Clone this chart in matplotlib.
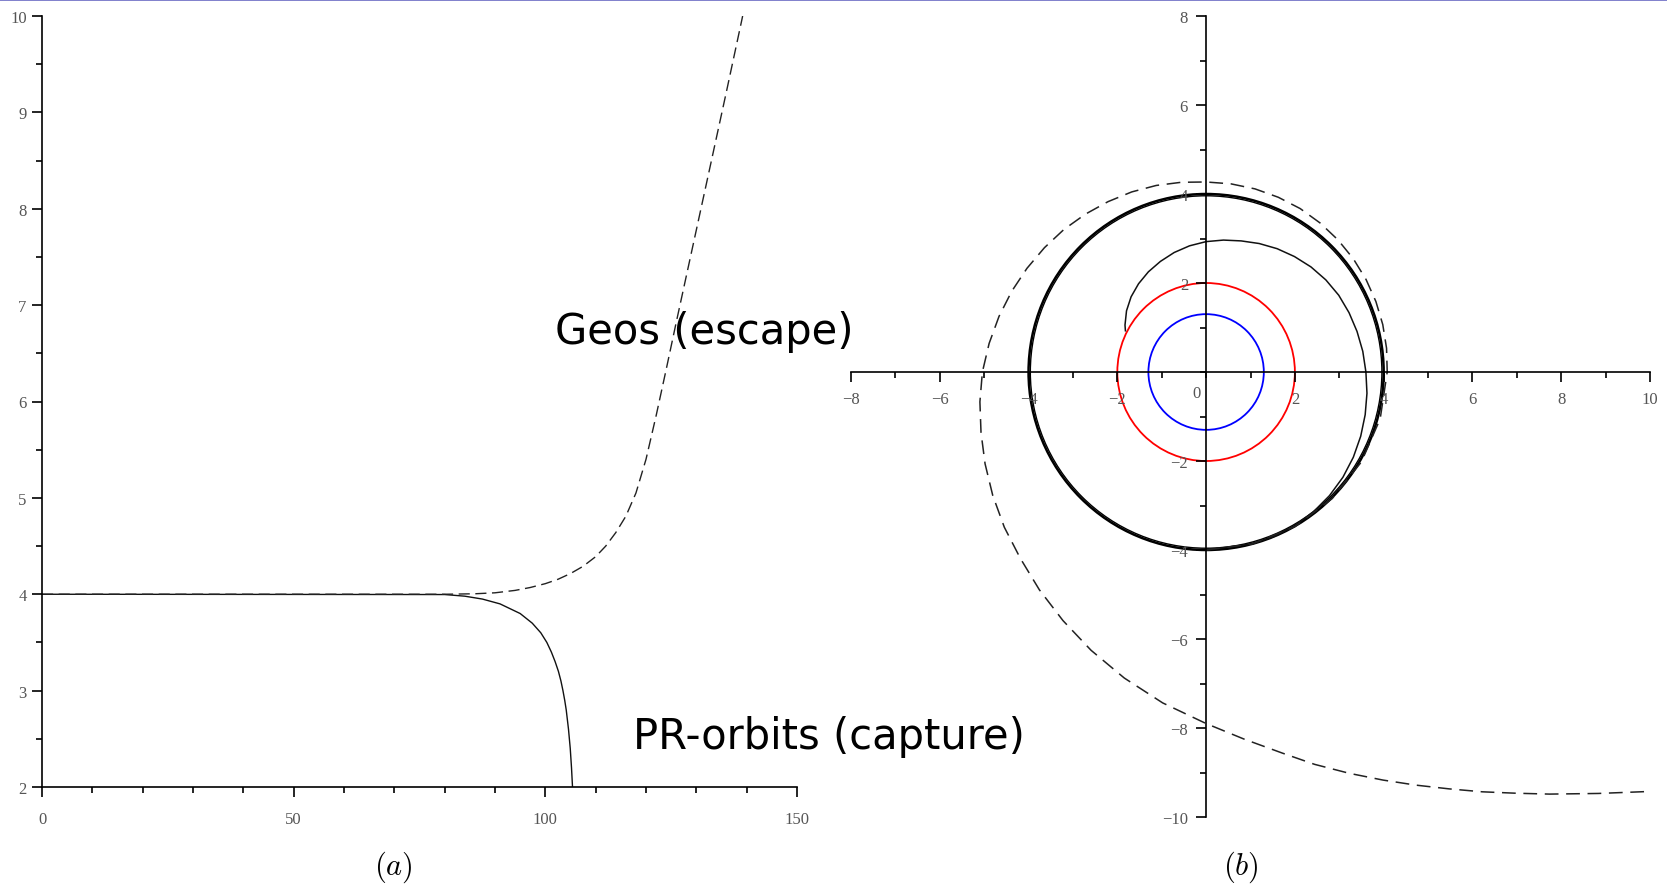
import numpy as np
import matplotlib.pyplot as plt
from matplotlib.ticker import MultipleLocator, FixedLocator
from matplotlib.patches import Circle
from matplotlib.lines import Line2D

plt.rcParams['font.family'] = ['Liberation Serif', 'DejaVu Serif']
plt.rcParams['mathtext.fontset'] = 'cm'

# panel (a): r against time
t_escape = [0, 80, 86, 90, 94, 97, 100, 102.5, 105, 107.5, 110, 112, 114, 116,
            118, 120, 122, 124, 126, 128, 130, 133, 136, 139, 139.2]
r_escape = [4.0, 4.0, 4.005, 4.015, 4.04, 4.07, 4.11, 4.155, 4.215, 4.29, 4.39,
            4.50, 4.64, 4.81, 5.05, 5.40, 5.85, 6.33, 6.82, 7.30, 7.78, 8.50,
            9.22, 9.95, 10.0]
t_capture = [0, 80, 84, 87.5, 91.0, 95.0, 97.4, 99.1, 100.3, 101.2, 101.95,
             102.6, 103.1, 103.5, 103.85, 104.15, 104.6, 104.95, 105.2, 105.4]
r_capture = [4.0, 3.997, 3.98, 3.95, 3.9, 3.8, 3.7, 3.6, 3.5, 3.4, 3.3, 3.2,
             3.1, 3.0, 2.9, 2.8, 2.6, 2.4, 2.2, 2.0]

# panel (b): orbits in the plane, polar angle (deg) and radius
phi_escape = [-90, -75, -60, -45, -30, -15, 0, 7.5, 15, 22.5, 30, 37.5, 45,
              52.5, 60, 67.5, 75, 82.5, 90, 97.5, 105, 112.5, 120, 127.5, 135,
              142.5, 150, 157.5, 165, 172.5, 180, 187.5, 195, 202.5, 210,
              217.5, 225, 232.5, 240, 247.5, 255, 262.5, 270, 276, 281.4,
              285.5, 289.7, 293.5, 297, 300.3, 303.4, 306.4, 309.2, 313, 316.6]
rho_escape = [4.00, 4.00, 4.01, 4.02, 4.04, 4.06, 4.08, 4.10, 4.12, 4.14, 4.16,
              4.18, 4.20, 4.22, 4.24, 4.25, 4.26, 4.265, 4.27, 4.30, 4.34, 4.38,
              4.42, 4.47, 4.53, 4.59, 4.66, 4.74, 4.83, 4.93, 5.04, 5.14, 5.25,
              5.39, 5.55, 5.73, 5.92, 6.17, 6.45, 6.77, 7.12, 7.50, 7.90, 8.30,
              8.74, 9.15, 9.58, 10.0, 10.42, 10.85, 11.30, 11.76, 12.24, 12.95,
              13.72]
phi_capture = [-90, -75, -67.5, -60, -52.5, -45, -37.5, -30, -22.5, -15, -7.5,
               0, 7.5, 15, 22.5, 30, 37.5, 45, 52.5, 60, 67.5, 75, 82.5, 90,
               97.5, 105, 112.5, 120, 127.5, 135, 142.5, 150, 153]
rho_capture = [4.00, 4.00, 4.00, 3.99, 3.965, 3.93, 3.885, 3.83, 3.77, 3.71,
               3.655, 3.60, 3.56, 3.52, 3.485, 3.45, 3.40, 3.34, 3.27, 3.20,
               3.125, 3.05, 2.99, 2.93, 2.86, 2.78, 2.69, 2.60, 2.50, 2.39,
               2.26, 2.11, 2.04]

circular_orbit = [4.0, 3.96]
horizon_r = 2.0
inner_r = 1.3

W, H = 1667, 887
fig = plt.figure(figsize=(W / 100, H / 100), dpi=100)

lab_col = '#555555'

# ---- panel (a)
ax1 = fig.add_axes([42 / W, 1 - 788 / H, 755 / W, 771 / H])
ax1.plot(t_capture, r_capture, color='#111111', lw=1.0)
ax1.plot(t_escape, r_escape, color='#222222', lw=1.0, dashes=(8, 4))
ax1.set_xlim(0, 150)
ax1.set_ylim(2, 10)
for s in ['top', 'right']:
    ax1.spines[s].set_visible(False)
for s in ['left', 'bottom']:
    ax1.spines[s].set_linewidth(1.2)
ax1.xaxis.set_major_locator(FixedLocator([0, 50, 100, 150]))
ax1.xaxis.set_minor_locator(MultipleLocator(10))
ax1.yaxis.set_major_locator(MultipleLocator(1))
ax1.yaxis.set_minor_locator(MultipleLocator(0.5))
ax1.tick_params(which='major', length=7, width=1.2, labelsize=12,
                labelcolor=lab_col)
ax1.tick_params(which='minor', length=4.5, width=1.2)
ax1.tick_params(axis='x', which='major', pad=10)
ax1.tick_params(axis='y', which='major', pad=4)

# ---- panel (b)
ax2 = fig.add_axes([851 / W, 1 - 818 / H, 799 / W, 801 / H])
ax2.set_xlim(-8, 10)
ax2.set_ylim(-10, 8)
lws = [1.8, 1.0]
for r, lw in zip(circular_orbit, lws):
    ax2.add_patch(Circle((0, 0), r, fill=False, ec='black', lw=lw))
ax2.add_patch(Circle((0, 0), horizon_r, fill=False, ec='#ff0000', lw=1.3))
ax2.add_patch(Circle((0, 0), inner_r, fill=False, ec='#0000ff', lw=1.3))

th = np.radians(phi_capture)
rc = np.array(rho_capture)
ax2.plot(rc * np.cos(th), rc * np.sin(th), color='#111111', lw=1.1)
th = np.radians(phi_escape)
re = np.array(rho_escape)
ax2.plot(re * np.cos(th), re * np.sin(th), color='#222222', lw=1.1,
         dashes=(9, 5))

for s in ['top', 'right']:
    ax2.spines[s].set_visible(False)
for s in ['left', 'bottom']:
    ax2.spines[s].set_position(('data', 0))
    ax2.spines[s].set_linewidth(1.2)
ax2.xaxis.set_major_locator(FixedLocator([-8, -6, -4, -2, 2, 4, 6, 8, 10]))
ax2.xaxis.set_minor_locator(MultipleLocator(1))
ax2.yaxis.set_major_locator(FixedLocator([-10, -8, -6, -4, -2, 2, 4, 6, 8]))
ax2.yaxis.set_minor_locator(MultipleLocator(1))
ax2.tick_params(which='major', length=7, width=1.2, labelsize=12,
                labelcolor=lab_col)
ax2.tick_params(which='minor', length=4.5, width=1.2)
ax2.tick_params(axis='x', which='major', pad=7)
ax2.tick_params(axis='y', which='major', pad=6)
ax2.text(-0.21, -0.48, '0', ha='center', va='center', fontsize=12,
         color=lab_col)

# ---- captions and notes
fig.text(393 / W, 1 - 867 / H, '$(a)$', ha='center', va='center', fontsize=22)
fig.text(1241 / W, 1 - 867 / H, '$(b)$', ha='center', va='center', fontsize=22)
fig.text(704 / W, 1 - 332 / H, 'Geos (escape)', ha='center', va='center',
         fontsize=30, family='DejaVu Sans', zorder=5)
fig.text(829 / W, 1 - 737 / H, 'PR-orbits (capture)', ha='center',
         va='center', fontsize=30, family='DejaVu Sans', zorder=5)

fig.add_artist(Line2D([0, 1], [1 - 0.8 / H, 1 - 0.8 / H], color='#8080cc',
                      lw=1.4, transform=fig.transFigure))

fig.savefig('out.png', dpi=100)
